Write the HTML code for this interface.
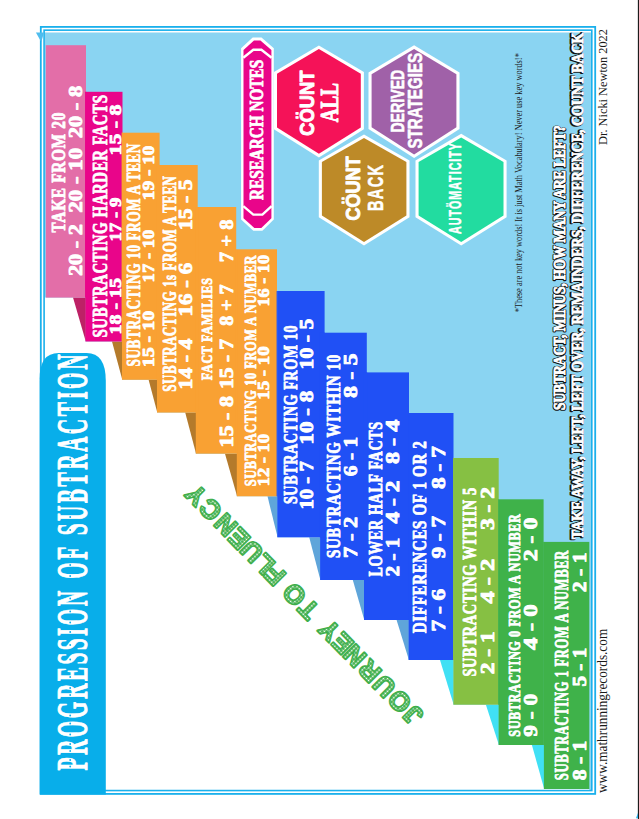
<!DOCTYPE html>
<html><head><meta charset="utf-8"><style>
html,body{margin:0;padding:0;background:#fff;}
body{width:639px;height:819px;position:relative;overflow:hidden;font-family:"Liberation Sans", sans-serif;}
</style></head><body>
<svg width="639" height="819" viewBox="0 0 639 819" style="position:absolute;left:0;top:0"><rect x="0" y="0" width="639" height="819" fill="#fff"/><rect x="637.85" y="0" width="1.15" height="819" fill="#1c1c1c"/><polygon points="638.0,812.8 638.0,818.2 636.0,818.2" fill="#2cb2ec"/><rect x="45.0" y="32.5" width="546.0" height="757.5" fill="#8ad4f2"/><polygon points="45.0,790.0 45.0,297.6 85.5,297.6 85.5,341.5 122.0,341.5 122.0,379.8 157.0,379.8 157.0,412.6 195.8,412.6 195.8,453.7 236.8,453.7 236.8,496.3 277.3,496.3 277.3,537.3 320.1,537.3 320.1,580.0 364.0,580.0 364.0,620.0 408.6,620.0 408.6,660.0 453.4,660.0 453.4,704.7 498.6,704.7 498.6,745.0 543.9,745.0 543.9,789.0 589.3,789.0 589.3,790.0" fill="#fff"/><rect x="40.8" y="26.9" width="554.4" height="767.0" fill="none" stroke="#1ab0ec" stroke-width="1.8"/><rect x="44.1" y="30.15" width="547.7" height="760.4" fill="none" stroke="#1ab0ec" stroke-width="1.6"/><polygon points="35.9,32.5 44.0,32.5 41.3,42" fill="#4fbdee"/><polygon points="73.0,297.6 85.8,297.6 85.8,341.5" fill="#bd2166"/><polygon points="112.0,341.5 122.3,341.5 122.3,379.8" fill="#b47a2b"/><polygon points="148.6,379.8 157.3,379.8 157.3,412.6" fill="#b47a2b"/><polygon points="185.2,412.6 196.10000000000002,412.6 196.10000000000002,453.7" fill="#b47a2b"/><polygon points="225.0,453.7 237.10000000000002,453.7 237.10000000000002,496.3" fill="#b47a2b"/><polygon points="267.5,496.3 277.6,496.3 277.6,537.3" fill="#5fa5da"/><polygon points="309.2,537.3 320.40000000000003,537.3 320.40000000000003,580.0" fill="#5fa5da"/><polygon points="352.8,580.0 364.3,580.0 364.3,620.0" fill="#5fa5da"/><polygon points="396.6,620.0 408.90000000000003,620.0 408.90000000000003,660.0" fill="#5fa5da"/><polygon points="440.0,660.0 453.7,660.0 453.7,704.7" fill="#40e0f4"/><polygon points="485.9,704.7 498.90000000000003,704.7 498.90000000000003,745.0" fill="#40e0f4"/><polygon points="531.9,745.0 544.1999999999999,745.0 544.1999999999999,789.0" fill="#40e0f4"/><rect x="45.8" y="45.2" width="40.2" height="252.4" fill="#e36ea8"/><rect x="85.5" y="91.8" width="37.0" height="249.7" fill="#e9058a"/><rect x="122.0" y="132.7" width="37.6" height="247.1" fill="#f9a133"/><rect x="157.0" y="165.0" width="40.7" height="247.6" fill="#f9a133"/><rect x="195.8" y="207.0" width="40.4" height="246.7" fill="#f9a133"/><rect x="236.8" y="249.3" width="40.2" height="247.0" fill="#f9a133"/><rect x="277.3" y="291.0" width="47.3" height="246.3" fill="#2050f5"/><rect x="320.1" y="332.7" width="46.7" height="247.3" fill="#2050f5"/><rect x="364.0" y="372.4" width="45.0" height="247.6" fill="#2050f5"/><rect x="408.6" y="413.0" width="44.9" height="247.0" fill="#2050f5"/><rect x="453.4" y="458.0" width="45.3" height="246.7" fill="#86c043"/><rect x="498.6" y="499.3" width="45.0" height="245.7" fill="#3fb24a"/><rect x="543.9" y="541.9" width="45.4" height="247.1" fill="#3fb24a"/><rect x="85.1" y="91.8" width="1.3" height="205.8" fill="#e9058a"/><rect x="121.6" y="132.7" width="1.3" height="208.8" fill="#f9a133"/><rect x="156.6" y="165.0" width="3.4" height="214.8" fill="#f9a133"/><rect x="195.4" y="207.0" width="2.7" height="205.6" fill="#f9a133"/><rect x="235.8" y="249.3" width="1.4" height="204.4" fill="#f9a133"/><rect x="276.6" y="291.0" width="1.1" height="205.3" fill="#2050f5"/><rect x="319.7" y="332.7" width="5.3" height="204.6" fill="#2050f5"/><rect x="363.6" y="372.4" width="3.6" height="207.6" fill="#2050f5"/><rect x="408.2" y="413.0" width="1.2" height="207.0" fill="#2050f5"/><rect x="453.0" y="458.0" width="0.9" height="202.0" fill="#86c043"/><rect x="498.2" y="499.3" width="0.9" height="205.4" fill="#3fb24a"/><rect x="543.2" y="541.9" width="1.1" height="203.1" fill="#3fb24a"/><text transform="translate(65.4,232.4) rotate(-90)" x="0" y="0" font-family='"Liberation Serif", serif' font-weight="bold" font-size="18.14" fill="#fff" stroke="#fff" stroke-width="0.8" stroke-linejoin="round" textLength="120.4" lengthAdjust="spacingAndGlyphs" letter-spacing="0.8">TAKE FROM 20</text><text transform="translate(82.1,276.0) rotate(-90)" x="0" y="0" font-family='"Liberation Serif", serif' font-weight="bold" font-size="18.14" fill="#fff" stroke="#fff" stroke-width="0.8" stroke-linejoin="round" textLength="51.8" lengthAdjust="spacingAndGlyphs" >20 - 2</text><text transform="translate(82.1,212.8) rotate(-90)" x="0" y="0" font-family='"Liberation Serif", serif' font-weight="bold" font-size="18.14" fill="#fff" stroke="#fff" stroke-width="0.8" stroke-linejoin="round" textLength="65.1" lengthAdjust="spacingAndGlyphs" >20 - 10</text><text transform="translate(82.1,138.2) rotate(-90)" x="0" y="0" font-family='"Liberation Serif", serif' font-weight="bold" font-size="18.14" fill="#fff" stroke="#fff" stroke-width="0.8" stroke-linejoin="round" textLength="52.4" lengthAdjust="spacingAndGlyphs" >20 - 8</text><text transform="translate(106.6,337.6) rotate(-90)" x="0" y="0" font-family='"Liberation Serif", serif' font-weight="bold" font-size="20.00" fill="#fff" stroke="#fff" stroke-width="0.8" stroke-linejoin="round" textLength="243.2" lengthAdjust="spacingAndGlyphs" letter-spacing="0.8">SUBTRACTING HARDER FACTS</text><text transform="translate(120.9,334.4) rotate(-90)" x="0" y="0" font-family='"Liberation Serif", serif' font-weight="bold" font-size="17.00" fill="#fff" stroke="#fff" stroke-width="0.8" stroke-linejoin="round" textLength="56.3" lengthAdjust="spacingAndGlyphs" >18 - 15</text><text transform="translate(120.9,241.6) rotate(-90)" x="0" y="0" font-family='"Liberation Serif", serif' font-weight="bold" font-size="17.00" fill="#fff" stroke="#fff" stroke-width="0.8" stroke-linejoin="round" textLength="44.1" lengthAdjust="spacingAndGlyphs" >17 - 9</text><text transform="translate(120.9,155.5) rotate(-90)" x="0" y="0" font-family='"Liberation Serif", serif' font-weight="bold" font-size="17.00" fill="#fff" stroke="#fff" stroke-width="0.8" stroke-linejoin="round" textLength="50.8" lengthAdjust="spacingAndGlyphs" >15 - 8</text><text transform="translate(139.6,366.5) rotate(-90)" x="0" y="0" font-family='"Liberation Serif", serif' font-weight="bold" font-size="18.14" fill="#fff" stroke="#fff" stroke-width="0.8" stroke-linejoin="round" textLength="223.4" lengthAdjust="spacingAndGlyphs" letter-spacing="0.8">SUBTRACTING 10 FROM A TEEN</text><text transform="translate(154.0,367.3) rotate(-90)" x="0" y="0" font-family='"Liberation Serif", serif' font-weight="bold" font-size="17.14" fill="#fff" stroke="#fff" stroke-width="0.8" stroke-linejoin="round" textLength="56.4" lengthAdjust="spacingAndGlyphs" >15 - 10</text><text transform="translate(154.0,282.4) rotate(-90)" x="0" y="0" font-family='"Liberation Serif", serif' font-weight="bold" font-size="17.14" fill="#fff" stroke="#fff" stroke-width="0.8" stroke-linejoin="round" textLength="52.8" lengthAdjust="spacingAndGlyphs" >17 - 10</text><text transform="translate(154.0,200.2) rotate(-90)" x="0" y="0" font-family='"Liberation Serif", serif' font-weight="bold" font-size="17.14" fill="#fff" stroke="#fff" stroke-width="0.8" stroke-linejoin="round" textLength="54.7" lengthAdjust="spacingAndGlyphs" >19 - 10</text><text transform="translate(176.4,391.7) rotate(-90)" x="0" y="0" font-family='"Liberation Serif", serif' font-weight="bold" font-size="18.14" fill="#fff" stroke="#fff" stroke-width="0.8" stroke-linejoin="round" textLength="216.2" lengthAdjust="spacingAndGlyphs" letter-spacing="0.8">SUBTRACTING 1s FROM A TEEN</text><text transform="translate(192.3,389.4) rotate(-90)" x="0" y="0" font-family='"Liberation Serif", serif' font-weight="bold" font-size="18.14" fill="#fff" stroke="#fff" stroke-width="0.8" stroke-linejoin="round" textLength="50.8" lengthAdjust="spacingAndGlyphs" >14 - 4</text><text transform="translate(192.3,316.4) rotate(-90)" x="0" y="0" font-family='"Liberation Serif", serif' font-weight="bold" font-size="18.14" fill="#fff" stroke="#fff" stroke-width="0.8" stroke-linejoin="round" textLength="53.6" lengthAdjust="spacingAndGlyphs" >16 - 6</text><text transform="translate(192.3,230.2) rotate(-90)" x="0" y="0" font-family='"Liberation Serif", serif' font-weight="bold" font-size="18.14" fill="#fff" stroke="#fff" stroke-width="0.8" stroke-linejoin="round" textLength="50.8" lengthAdjust="spacingAndGlyphs" >15 - 5</text><text transform="translate(212.4,380.2) rotate(-90)" x="0" y="0" font-family='"Liberation Serif", serif' font-weight="bold" font-size="15.00" fill="#fff" stroke="#fff" stroke-width="0.8" stroke-linejoin="round" textLength="102.8" lengthAdjust="spacingAndGlyphs" letter-spacing="0.8">FACT FAMILIES</text><text transform="translate(232.9,447.6) rotate(-90)" x="0" y="0" font-family='"Liberation Serif", serif' font-weight="bold" font-size="18.14" fill="#fff" stroke="#fff" stroke-width="0.8" stroke-linejoin="round" textLength="51.6" lengthAdjust="spacingAndGlyphs" >15 - 8</text><text transform="translate(232.9,388.9) rotate(-90)" x="0" y="0" font-family='"Liberation Serif", serif' font-weight="bold" font-size="18.14" fill="#fff" stroke="#fff" stroke-width="0.8" stroke-linejoin="round" textLength="50.0" lengthAdjust="spacingAndGlyphs" >15 - 7</text><text transform="translate(232.9,325.8) rotate(-90)" x="0" y="0" font-family='"Liberation Serif", serif' font-weight="bold" font-size="18.14" fill="#fff" stroke="#fff" stroke-width="0.8" stroke-linejoin="round" textLength="41.3" lengthAdjust="spacingAndGlyphs" >8 + 7</text><text transform="translate(232.9,262.3) rotate(-90)" x="0" y="0" font-family='"Liberation Serif", serif' font-weight="bold" font-size="18.14" fill="#fff" stroke="#fff" stroke-width="0.8" stroke-linejoin="round" textLength="42.9" lengthAdjust="spacingAndGlyphs" >7 + 8</text><text transform="translate(255.6,486.3) rotate(-90)" x="0" y="0" font-family='"Liberation Serif", serif' font-weight="bold" font-size="17.00" fill="#fff" stroke="#fff" stroke-width="0.8" stroke-linejoin="round" textLength="231.4" lengthAdjust="spacingAndGlyphs" letter-spacing="0.8">SUBTRACTING 10 FROM A NUMBER</text><text transform="translate(269.1,486.3) rotate(-90)" x="0" y="0" font-family='"Liberation Serif", serif' font-weight="bold" font-size="17.00" fill="#fff" stroke="#fff" stroke-width="0.8" stroke-linejoin="round" textLength="52.4" lengthAdjust="spacingAndGlyphs" >12 - 10</text><text transform="translate(269.1,399.8) rotate(-90)" x="0" y="0" font-family='"Liberation Serif", serif' font-weight="bold" font-size="17.00" fill="#fff" stroke="#fff" stroke-width="0.8" stroke-linejoin="round" textLength="53.6" lengthAdjust="spacingAndGlyphs" >15 - 10</text><text transform="translate(269.1,306.5) rotate(-90)" x="0" y="0" font-family='"Liberation Serif", serif' font-weight="bold" font-size="17.00" fill="#fff" stroke="#fff" stroke-width="0.8" stroke-linejoin="round" textLength="51.6" lengthAdjust="spacingAndGlyphs" >16 - 10</text><text transform="translate(296.6,504.1) rotate(-90)" x="0" y="0" font-family='"Liberation Serif", serif' font-weight="bold" font-size="19.29" fill="#fff" stroke="#fff" stroke-width="0.8" stroke-linejoin="round" textLength="179.2" lengthAdjust="spacingAndGlyphs" letter-spacing="0.8">SUBTRACTING FROM 10</text><text transform="translate(313.3,509.6) rotate(-90)" x="0" y="0" font-family='"Liberation Serif", serif' font-weight="bold" font-size="18.14" fill="#fff" stroke="#fff" stroke-width="0.8" stroke-linejoin="round" textLength="48.4" lengthAdjust="spacingAndGlyphs" >10 - 7</text><text transform="translate(313.3,444.5) rotate(-90)" x="0" y="0" font-family='"Liberation Serif", serif' font-weight="bold" font-size="18.14" fill="#fff" stroke="#fff" stroke-width="0.8" stroke-linejoin="round" textLength="53.7" lengthAdjust="spacingAndGlyphs" >10 - 8</text><text transform="translate(313.3,369.4) rotate(-90)" x="0" y="0" font-family='"Liberation Serif", serif' font-weight="bold" font-size="18.14" fill="#fff" stroke="#fff" stroke-width="0.8" stroke-linejoin="round" textLength="50.8" lengthAdjust="spacingAndGlyphs" >10 - 5</text><text transform="translate(339.8,558.0) rotate(-90)" x="0" y="0" font-family='"Liberation Serif", serif' font-weight="bold" font-size="19.29" fill="#fff" stroke="#fff" stroke-width="0.8" stroke-linejoin="round" textLength="203.8" lengthAdjust="spacingAndGlyphs" letter-spacing="0.8">SUBTRACTING WITHIN 10</text><text transform="translate(357.3,558.0) rotate(-90)" x="0" y="0" font-family='"Liberation Serif", serif' font-weight="bold" font-size="19.29" fill="#fff" stroke="#fff" stroke-width="0.8" stroke-linejoin="round" textLength="41.3" lengthAdjust="spacingAndGlyphs" >7 - 2</text><text transform="translate(357.3,476.2) rotate(-90)" x="0" y="0" font-family='"Liberation Serif", serif' font-weight="bold" font-size="19.29" fill="#fff" stroke="#fff" stroke-width="0.8" stroke-linejoin="round" textLength="39.5" lengthAdjust="spacingAndGlyphs" >6 - 1</text><text transform="translate(357.3,397.9) rotate(-90)" x="0" y="0" font-family='"Liberation Serif", serif' font-weight="bold" font-size="19.29" fill="#fff" stroke="#fff" stroke-width="0.8" stroke-linejoin="round" textLength="44.5" lengthAdjust="spacingAndGlyphs" >8 - 5</text><text transform="translate(381.5,576.5) rotate(-90)" x="0" y="0" font-family='"Liberation Serif", serif' font-weight="bold" font-size="18.14" fill="#fff" stroke="#fff" stroke-width="0.8" stroke-linejoin="round" textLength="155.3" lengthAdjust="spacingAndGlyphs" letter-spacing="0.8">LOWER HALF FACTS</text><text transform="translate(398.9,576.5) rotate(-90)" x="0" y="0" font-family='"Liberation Serif", serif' font-weight="bold" font-size="18.14" fill="#fff" stroke="#fff" stroke-width="0.8" stroke-linejoin="round" textLength="38.9" lengthAdjust="spacingAndGlyphs" >2 - 1</text><text transform="translate(398.9,523.4) rotate(-90)" x="0" y="0" font-family='"Liberation Serif", serif' font-weight="bold" font-size="18.14" fill="#fff" stroke="#fff" stroke-width="0.8" stroke-linejoin="round" textLength="42.7" lengthAdjust="spacingAndGlyphs" >4 - 2</text><text transform="translate(398.9,464.1) rotate(-90)" x="0" y="0" font-family='"Liberation Serif", serif' font-weight="bold" font-size="18.14" fill="#fff" stroke="#fff" stroke-width="0.8" stroke-linejoin="round" textLength="44.5" lengthAdjust="spacingAndGlyphs" >8 - 4</text><text transform="translate(425.5,633.2) rotate(-90)" x="0" y="0" font-family='"Liberation Serif", serif' font-weight="bold" font-size="19.29" fill="#fff" stroke="#fff" stroke-width="0.8" stroke-linejoin="round" textLength="192.7" lengthAdjust="spacingAndGlyphs" letter-spacing="0.8">DIFFERENCES OF 1 OR 2</text><text transform="translate(445.3,631.6) rotate(-90)" x="0" y="0" font-family='"Liberation Serif", serif' font-weight="bold" font-size="19.29" fill="#fff" stroke="#fff" stroke-width="0.8" stroke-linejoin="round" textLength="42.9" lengthAdjust="spacingAndGlyphs" >7 - 6</text><text transform="translate(445.3,558.6) rotate(-90)" x="0" y="0" font-family='"Liberation Serif", serif' font-weight="bold" font-size="19.29" fill="#fff" stroke="#fff" stroke-width="0.8" stroke-linejoin="round" textLength="42.7" lengthAdjust="spacingAndGlyphs" >9 - 7</text><text transform="translate(445.3,489.0) rotate(-90)" x="0" y="0" font-family='"Liberation Serif", serif' font-weight="bold" font-size="19.29" fill="#fff" stroke="#fff" stroke-width="0.8" stroke-linejoin="round" textLength="42.9" lengthAdjust="spacingAndGlyphs" >8 - 7</text><text transform="translate(476.2,676.6) rotate(-90)" x="0" y="0" font-family='"Liberation Serif", serif' font-weight="bold" font-size="18.14" fill="#fff" stroke="#fff" stroke-width="0.8" stroke-linejoin="round" textLength="189.5" lengthAdjust="spacingAndGlyphs" letter-spacing="0.8">SUBTRACTING WITHIN 5</text><text transform="translate(493.7,674.2) rotate(-90)" x="0" y="0" font-family='"Liberation Serif", serif' font-weight="bold" font-size="18.14" fill="#fff" stroke="#fff" stroke-width="0.8" stroke-linejoin="round" textLength="42.8" lengthAdjust="spacingAndGlyphs" >2 - 1</text><text transform="translate(493.7,603.6) rotate(-90)" x="0" y="0" font-family='"Liberation Serif", serif' font-weight="bold" font-size="18.14" fill="#fff" stroke="#fff" stroke-width="0.8" stroke-linejoin="round" textLength="45.0" lengthAdjust="spacingAndGlyphs" >4 - 2</text><text transform="translate(493.7,530.0) rotate(-90)" x="0" y="0" font-family='"Liberation Serif", serif' font-weight="bold" font-size="18.14" fill="#fff" stroke="#fff" stroke-width="0.8" stroke-linejoin="round" textLength="42.9" lengthAdjust="spacingAndGlyphs" >3 - 2</text><text transform="translate(519.6,736.7) rotate(-90)" x="0" y="0" font-family='"Liberation Serif", serif' font-weight="bold" font-size="17.00" fill="#fff" stroke="#fff" stroke-width="0.8" stroke-linejoin="round" textLength="223.1" lengthAdjust="spacingAndGlyphs" letter-spacing="0.8">SUBTRACTING 0 FROM A NUMBER</text><text transform="translate(537.1,736.7) rotate(-90)" x="0" y="0" font-family='"Liberation Serif", serif' font-weight="bold" font-size="19.29" fill="#fff" stroke="#fff" stroke-width="0.8" stroke-linejoin="round" textLength="42.9" lengthAdjust="spacingAndGlyphs" >9 - 0</text><text transform="translate(537.1,650.1) rotate(-90)" x="0" y="0" font-family='"Liberation Serif", serif' font-weight="bold" font-size="19.29" fill="#fff" stroke="#fff" stroke-width="0.8" stroke-linejoin="round" textLength="46.0" lengthAdjust="spacingAndGlyphs" >4 - 0</text><text transform="translate(537.1,561.3) rotate(-90)" x="0" y="0" font-family='"Liberation Serif", serif' font-weight="bold" font-size="19.29" fill="#fff" stroke="#fff" stroke-width="0.8" stroke-linejoin="round" textLength="43.7" lengthAdjust="spacingAndGlyphs" >2 - 0</text><text transform="translate(568.0,780.2) rotate(-90)" x="0" y="0" font-family='"Liberation Serif", serif' font-weight="bold" font-size="18.14" fill="#fff" stroke="#fff" stroke-width="0.8" stroke-linejoin="round" textLength="230.1" lengthAdjust="spacingAndGlyphs" letter-spacing="0.8">SUBTRACTING 1 FROM A NUMBER</text><text transform="translate(585.5,780.2) rotate(-90)" x="0" y="0" font-family='"Liberation Serif", serif' font-weight="bold" font-size="18.14" fill="#fff" stroke="#fff" stroke-width="0.8" stroke-linejoin="round" textLength="39.6" lengthAdjust="spacingAndGlyphs" >8 - 1</text><text transform="translate(585.5,686.6) rotate(-90)" x="0" y="0" font-family='"Liberation Serif", serif' font-weight="bold" font-size="18.14" fill="#fff" stroke="#fff" stroke-width="0.8" stroke-linejoin="round" textLength="38.9" lengthAdjust="spacingAndGlyphs" >5 - 1</text><text transform="translate(585.5,592.2) rotate(-90)" x="0" y="0" font-family='"Liberation Serif", serif' font-weight="bold" font-size="18.14" fill="#fff" stroke="#fff" stroke-width="0.8" stroke-linejoin="round" textLength="39.7" lengthAdjust="spacingAndGlyphs" >2 - 1</text><path d="M39.6,794.4 L39.6,379 Q39.6,353 58.6,353 L86.6,353 Q105.8,353 105.8,381 L105.8,794.4 Z" fill="#08aeea"/><text transform="translate(87.4,770.5) rotate(-90)" x="0" y="0" font-family='"Liberation Serif", serif' font-weight="bold" font-size="44.86" fill="#fff" stroke="#fff" stroke-width="0.9" stroke-linejoin="round" textLength="418.5" lengthAdjust="spacingAndGlyphs" letter-spacing="5" word-spacing="4">PROGRESSION OF SUBTRACTION</text><circle cx="70.2" cy="362.0" r="0.9" fill="#08aeea"/><circle cx="70.2" cy="375.5" r="0.9" fill="#08aeea"/><circle cx="70.2" cy="386.0" r="0.9" fill="#08aeea"/><circle cx="70.2" cy="395.5" r="0.9" fill="#08aeea"/><circle cx="70.2" cy="409.0" r="0.9" fill="#08aeea"/><circle cx="70.2" cy="431.5" r="0.9" fill="#08aeea"/><circle cx="70.2" cy="442.0" r="0.9" fill="#08aeea"/><circle cx="70.2" cy="458.5" r="0.9" fill="#08aeea"/><circle cx="70.2" cy="466.0" r="0.9" fill="#08aeea"/><circle cx="70.2" cy="479.5" r="0.9" fill="#08aeea"/><circle cx="70.2" cy="494.0" r="0.9" fill="#08aeea"/><circle cx="70.2" cy="499.0" r="0.9" fill="#08aeea"/><circle cx="70.2" cy="517.0" r="0.9" fill="#08aeea"/><circle cx="70.2" cy="530.0" r="0.9" fill="#08aeea"/><circle cx="70.2" cy="556.0" r="0.9" fill="#08aeea"/><circle cx="70.2" cy="565.0" r="0.9" fill="#08aeea"/><circle cx="70.2" cy="576.0" r="0.9" fill="#08aeea"/><circle cx="70.2" cy="598.5" r="0.9" fill="#08aeea"/><circle cx="70.2" cy="611.5" r="0.9" fill="#08aeea"/><circle cx="70.2" cy="622.5" r="0.9" fill="#08aeea"/><circle cx="70.2" cy="632.0" r="0.9" fill="#08aeea"/><circle cx="70.2" cy="645.0" r="0.9" fill="#08aeea"/><circle cx="70.2" cy="659.5" r="0.9" fill="#08aeea"/><circle cx="70.2" cy="677.0" r="0.9" fill="#08aeea"/><circle cx="70.2" cy="688.0" r="0.9" fill="#08aeea"/><circle cx="70.2" cy="695.0" r="0.9" fill="#08aeea"/><circle cx="70.2" cy="715.5" r="0.9" fill="#08aeea"/><circle cx="70.2" cy="723.5" r="0.9" fill="#08aeea"/><circle cx="70.2" cy="734.5" r="0.9" fill="#08aeea"/><circle cx="70.2" cy="744.0" r="0.9" fill="#08aeea"/><circle cx="70.2" cy="751.0" r="0.9" fill="#08aeea"/><circle cx="70.2" cy="760.0" r="0.9" fill="#08aeea"/><circle cx="70.2" cy="766.5" r="0.9" fill="#08aeea"/><polygon points="252.7,37.6 261.5,37.6 273.8,48.3 273.8,219.5 262.4,230.7 253.3,230.7 241.1,219.5 241.1,48.3" fill="#fff"/><polygon points="254.0,40.4 260.4,40.4 271.4,50.0 271.4,218.3 261.3,228.0 254.4,228.0 243.5,218.3 243.5,50.0" fill="#e9058a"/><polyline points="243.3,57.8 253.3,49.8 261.4,49.8 271.6,57.8" fill="none" stroke="#fff" stroke-width="2.4"/><polyline points="243.3,206.1 253.3,214.6 262.4,214.6 271.6,206.1" fill="none" stroke="#fff" stroke-width="2.4"/><text transform="translate(263.3,200.0) rotate(-90)" x="0" y="0" font-family='"Liberation Serif", serif' font-weight="bold" font-size="18.57" fill="#fff" stroke="#fff" stroke-width="0.8" stroke-linejoin="round" textLength="140.1" lengthAdjust="spacingAndGlyphs" >RESEARCH NOTES</text><polygon points="318.9,45.5 363.9,72.1 363.9,129.2 318.9,157.4 273.9,129.2 273.9,72.1" fill="#fff"/><polygon points="318.9,49.1 360.8,73.8 360.8,127.5 318.9,153.8 277.0,127.5 277.0,73.8" fill="#f51258"/><polygon points="414.1,45.3 459.5,72.6 459.5,128.9 414.1,158.0 368.5,128.9 368.5,72.6" fill="#fff"/><polygon points="414.1,48.9 456.4,74.3 456.4,127.2 414.1,154.4 371.6,127.2 371.6,74.3" fill="#a061a8"/><polygon points="364.0,134.4 409.5,160.4 409.5,217.3 364.0,245.5 318.8,217.3 318.8,160.4" fill="#fff"/><polygon points="364.0,138.0 406.4,162.1 406.4,215.6 364.0,241.9 321.9,215.6 321.9,162.1" fill="#bd8a28"/><polygon points="461.2,133.8 506.6,160.4 506.6,217.3 461.2,245.5 415.5,217.3 415.5,160.4" fill="#fff"/><polygon points="461.2,137.4 503.5,162.1 503.5,215.6 461.2,241.9 418.6,215.6 418.6,162.1" fill="#22dca0"/><text transform="translate(313.6,135.7) rotate(-90)" x="0" y="0" font-family='"Liberation Sans", sans-serif' font-weight="bold" font-size="20.29" fill="#fff" stroke="#fff" stroke-width="0.9" stroke-linejoin="round" textLength="65.1" lengthAdjust="spacingAndGlyphs" >CÖUNT</text><text transform="translate(337.6,122.2) rotate(-90)" x="0" y="0" font-family='"Liberation Serif", serif' font-weight="bold" font-size="24.86" fill="#fff" stroke="#fff" stroke-width="0.9" stroke-linejoin="round" textLength="39.2" lengthAdjust="spacingAndGlyphs" >ALL</text><text transform="translate(404.0,132.6) rotate(-90)" x="0" y="0" font-family='"Liberation Sans", sans-serif' font-weight="bold" font-size="18.57" fill="#fff" stroke="#fff" stroke-width="0.6" stroke-linejoin="round" textLength="62.9" lengthAdjust="spacingAndGlyphs" >DERIVED</text><text transform="translate(421.6,148.6) rotate(-90)" x="0" y="0" font-family='"Liberation Sans", sans-serif' font-weight="bold" font-size="20.86" fill="#fff" stroke="#fff" stroke-width="0.6" stroke-linejoin="round" textLength="95.8" lengthAdjust="spacingAndGlyphs" >STRATEGIES</text><text transform="translate(360.0,220.5) rotate(-90)" x="0" y="0" font-family='"Liberation Sans", sans-serif' font-weight="bold" font-size="20.86" fill="#fff" stroke="#fff" stroke-width="0.9" stroke-linejoin="round" textLength="64.2" lengthAdjust="spacingAndGlyphs" >CÖUNT</text><text transform="translate(383.3,211.0) rotate(-90)" x="0" y="0" font-family='"Liberation Sans", sans-serif' font-weight="bold" font-size="22.86" fill="#fff" stroke="#fff" stroke-width="0.5" stroke-linejoin="round" textLength="47.5" lengthAdjust="spacingAndGlyphs" letter-spacing="2">BACK</text><text transform="translate(460.6,234.0) rotate(-90)" x="0" y="0" font-family='"Liberation Sans", sans-serif' font-weight="bold" font-size="15.57" fill="#fff" stroke="#fff" stroke-width="0.5" stroke-linejoin="round" textLength="92.0" lengthAdjust="spacingAndGlyphs" letter-spacing="1.5">AUTÖMATICITY</text><text transform="translate(522.2,312.3) rotate(-90)" font-family='"Liberation Serif", serif' font-size="9.3" fill="#1a1a1a" textLength="259.1" lengthAdjust="spacingAndGlyphs">*These are not key words! It is just Math Vocabulary! Never use key words!*</text><text transform="translate(564.7,410.2) rotate(-90)" font-family='"Liberation Serif", serif' font-weight="bold" font-size="15.71" textLength="284.5" lengthAdjust="spacingAndGlyphs" fill="#111" stroke="#111" stroke-width="2.8" stroke-linejoin="round">SUBTRACT, MINUS, HOW MANY ARE LEFT?</text><text transform="translate(565.2,409.9) rotate(-90)" font-family='"Liberation Serif", serif' font-weight="bold" font-size="15.71" textLength="284.5" lengthAdjust="spacingAndGlyphs" fill="#fff" stroke="#fff" stroke-width="0.9">SUBTRACT, MINUS, HOW MANY ARE LEFT?</text><text transform="translate(582.3,539.3) rotate(-90)" font-family='"Liberation Serif", serif' font-weight="bold" font-size="16.57" textLength="506.3" lengthAdjust="spacingAndGlyphs" fill="#111" stroke="#111" stroke-width="2.8" stroke-linejoin="round">TAKE AWAY, LEFT, LEFT OVER, REMAINDERS, DIFFERENCE, COUNT BACK</text><text transform="translate(582.8,539.0) rotate(-90)" font-family='"Liberation Serif", serif' font-weight="bold" font-size="16.57" textLength="506.3" lengthAdjust="spacingAndGlyphs" fill="#fff" stroke="#fff" stroke-width="0.9">TAKE AWAY, LEFT, LEFT OVER, REMAINDERS, DIFFERENCE, COUNT BACK</text><text transform="translate(607.0,144.9) rotate(-90)" font-family='"Liberation Serif", serif' font-size="12.8" fill="#1a1a1a" textLength="115.8" lengthAdjust="spacingAndGlyphs">Dr. Nicki Newton 2022</text><text transform="translate(607.0,793.0) rotate(-90)" font-family='"Liberation Serif", serif' font-size="14.2" fill="#1a1a1a" textLength="164.2" lengthAdjust="spacingAndGlyphs">www.mathrunningrecords.com</text><defs><pattern id="dots" patternUnits="userSpaceOnUse" width="3.0" height="3.0"><circle cx="1.5" cy="1.5" r="0.95" fill="#fff"/></pattern></defs><g transform="translate(417.0,719.1) rotate(-134.55)"><text x="-1.5 14.8 37.1 58.0 79.3 97.6 115.9 146.6 164.8 194.3 209.6 226.0 244.8 263.1 284.8 305.8" y="8.9" font-family='"Liberation Sans", sans-serif' font-weight="bold" font-size="26.0" fill="#3dae4a" stroke="#3dae4a" stroke-width="2.4" stroke-linejoin="round">JOURNEYTOFLUENCY</text><text x="-1.5 14.8 37.1 58.0 79.3 97.6 115.9 146.6 164.8 194.3 209.6 226.0 244.8 263.1 284.8 305.8" y="8.9" font-family='"Liberation Sans", sans-serif' font-weight="bold" font-size="26.0" fill="url(#dots)">JOURNEYTOFLUENCY</text><text x="-1.5 14.8 37.1 58.0 79.3 97.6 115.9 146.6 164.8 194.3 209.6 226.0 244.8 263.1 284.8 305.8" y="8.9" font-family='"Liberation Sans", sans-serif' font-weight="bold" font-size="26.0" fill="none" stroke="#3dae4a" stroke-width="0.6">JOURNEYTOFLUENCY</text></g></svg>
</body></html>
